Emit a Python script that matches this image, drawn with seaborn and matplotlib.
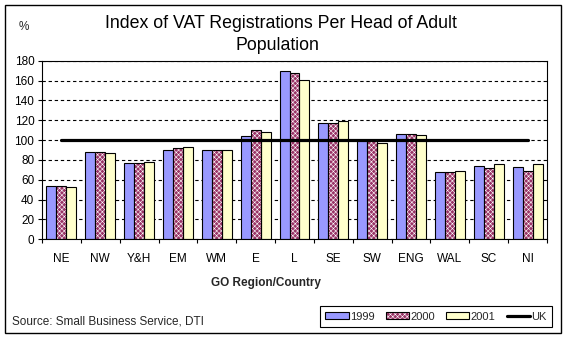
import numpy as np
import pandas as pd
import matplotlib
matplotlib.use("Agg")
import matplotlib.pyplot as plt
import seaborn as sns
from matplotlib.patches import Patch, Rectangle
from matplotlib.lines import Line2D

# ---- data ----
regions = ["NE", "NW", "Y&H", "EM", "WM", "E", "L", "SE", "SW", "ENG", "WAL", "SC", "NI"]
v1999 = [54, 88, 77, 90, 90, 104, 170, 117, 100, 106, 68, 74, 73]
v2000 = [54, 88, 77, 92, 90, 110, 168, 117, 99, 106, 68, 72, 69]
v2001 = [53, 87, 78, 93, 90, 108, 161, 119, 97, 105, 69, 76, 76]
uk = [100] * 13
years = ["1999", "2000", "2001"]
yticks = [0, 20, 40, 60, 80, 100, 120, 140, 160, 180]

# ---- style ----
c1999 = "#9999FF"
c2000 = "#993366"
c2001 = "#FFFFCC"
palette = {"1999": c1999, "2000": c2000, "2001": c2001}
HATCH = "xxxxxxx"

sns.set_theme(style="white")
plt.rcParams["font.family"] = ["Liberation Sans", "DejaVu Sans"]
plt.rcParams["hatch.linewidth"] = 0.4

df = pd.DataFrame({
    "Region": regions * 3,
    "Year": np.repeat(years, len(regions)),
    "Index": v1999 + v2000 + v2001,
})

W, H = 564, 339
fig = plt.figure(figsize=(W / 100, H / 100), dpi=100, facecolor="white")
ax = fig.add_axes([42 / W, 1 - 239.3 / H, (547 - 42) / W, (239.3 - 60.7) / H])

sns.barplot(data=df, x="Region", y="Index", hue="Year", order=regions,
            hue_order=years, palette=palette, width=0.77, saturation=1,
            edgecolor="black", linewidth=0.8, errorbar=None, legend=False, ax=ax)

# checkered fill for 2000
for p in ax.containers[1]:
    p.set_hatch(HATCH)
    p.set_edgecolor("white")
    p.set_linewidth(0)
    ax.add_patch(Rectangle(p.get_xy(), p.get_width(), p.get_height(),
                           fill=False, edgecolor="black", linewidth=0.8, zorder=p.get_zorder() + 0.1))

sns.lineplot(x=regions, y=uk, color="black", linewidth=2.3, sort=False,
             legend=False, ax=ax, zorder=5)

ax.set_xlim(-0.5, len(regions) - 0.5)
ax.set_ylim(0, 180)
ax.set_yticks(yticks)
ax.yaxis.grid(True, color="black", linestyle=(0, (3, 2.5)), linewidth=0.8)
ax.xaxis.grid(False)
ax.set_axisbelow(True)
ax.set_xlabel("")
ax.set_ylabel("")
for s in ax.spines.values():
    s.set_visible(True)
    s.set_color("black")
    s.set_linewidth(0.8)

ax.tick_params(axis="y", left=True, direction="out", length=3, width=0.8,
               color="black", pad=2.5, labelsize=8.5, labelcolor="black")
ax.tick_params(axis="x", which="major", bottom=True, length=0, pad=10,
               labelsize=8.5, labelcolor="black")
ax.set_xticks(np.arange(-0.5, len(regions), 1), minor=True)
ax.tick_params(axis="x", which="minor", bottom=True, direction="out",
               length=3, width=0.8, color="black")

# ---- texts ----
fig.text(281 / W, 1 - 23 / H, "Index of VAT Registrations Per Head of Adult",
         ha="center", va="center", fontsize=12.8, color="black")
fig.text(277 / W, 1 - 45 / H, "Population",
         ha="center", va="center", fontsize=12.8, color="black")
fig.text(24 / W, 1 - 27 / H, "%", ha="center", va="center", fontsize=8.5)
fig.text(266 / W, 1 - 283 / H, "GO Region/Country", ha="center", va="center",
         fontsize=8.5, fontweight="bold")
fig.text(12 / W, 1 - 322 / H, "Source: Small Business Service, DTI",
         ha="left", va="center", fontsize=8.5)

# ---- legend ----
handles = [
    Patch(facecolor=c1999, edgecolor="black", linewidth=0.8),
    (Patch(facecolor=c2000, edgecolor="white", hatch=HATCH, linewidth=0),
     Patch(fill=False, edgecolor="black", linewidth=0.8)),
    Patch(facecolor=c2001, edgecolor="black", linewidth=0.8),
    Line2D([], [], color="black", linewidth=2.3),
]
labels = years + ["UK"]
leg = fig.legend(handles, labels, loc="center",
                 bbox_to_anchor=(436 / W, 1 - 316.5 / H), ncol=4,
                 frameon=True, fancybox=False, edgecolor="black", framealpha=1,
                 fontsize=8, handlelength=2.1, handleheight=0.6,
                 handletextpad=0.12, columnspacing=1.0, borderpad=0.5,
                 borderaxespad=0)
leg.get_frame().set_linewidth(0.8)

# outer chart frame
fig.patches.append(Rectangle((5 / W, 1 - 333 / H), (561 - 5) / W, (333 - 4.5) / H,
                             transform=fig.transFigure, fill=False,
                             edgecolor="black", linewidth=1))

fig.savefig("out.png", dpi=100, facecolor="white")
